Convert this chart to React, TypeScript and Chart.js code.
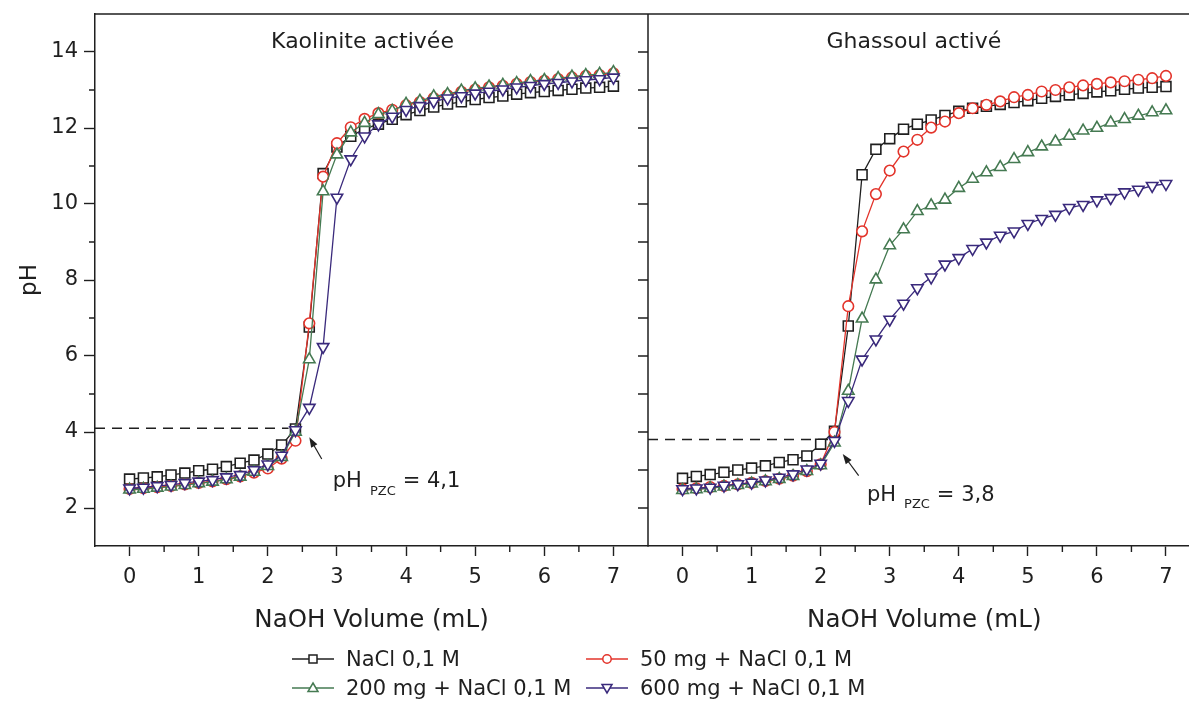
import React, { useEffect, useRef } from 'react';
import { Chart, registerables } from 'chart.js';

Chart.register(...registerables);

// ---------------- data ----------------
const volumes = [
  0, 0.2, 0.4, 0.6, 0.8, 1.0, 1.2, 1.4, 1.6, 1.8,
  2.0, 2.2, 2.4, 2.6, 2.8, 3.0, 3.2, 3.4, 3.6, 3.8,
  4.0, 4.2, 4.4, 4.6, 4.8, 5.0, 5.2, 5.4, 5.6, 5.8,
  6.0, 6.2, 6.4, 6.6, 6.8, 7.0,
];

// Kaolinite activée
const kaoNaCl = [
  2.76, 2.79, 2.82, 2.87, 2.92, 2.98, 3.02, 3.09, 3.18, 3.26,
  3.42, 3.66, 4.08, 6.76, 10.8, 11.5, 11.78, 11.98, 12.1, 12.23,
  12.35, 12.46, 12.55, 12.63, 12.69, 12.75, 12.8, 12.84, 12.89, 12.93,
  12.96, 12.99, 13.02, 13.05, 13.07, 13.1,
];
const kao50 = [
  2.5, 2.52, 2.55, 2.58, 2.62, 2.66, 2.7, 2.76, 2.83, 2.93,
  3.04, 3.3, 3.77, 6.86, 10.72, 11.6, 12.02, 12.24, 12.39, 12.48,
  12.6, 12.68, 12.79, 12.86, 12.95, 13.01, 13.07, 13.11, 13.16, 13.21,
  13.24, 13.29, 13.33, 13.37, 13.39, 13.44,
];
const kao200 = [
  2.48, 2.5, 2.53, 2.56, 2.6, 2.65, 2.69, 2.75, 2.82, 2.95,
  3.1, 3.34, 4.0, 5.91, 10.33, 11.3, 11.88, 12.13, 12.36, 12.45,
  12.63, 12.71, 12.83, 12.89, 12.98, 13.04, 13.09, 13.13, 13.18, 13.23,
  13.26, 13.31, 13.35, 13.39, 13.42, 13.47,
];
const kao600 = [
  2.52, 2.54, 2.58, 2.61, 2.66, 2.7, 2.74, 2.81, 2.87, 3.0,
  3.15, 3.38, 4.05, 4.64, 6.24, 10.17, 11.18, 11.78, 12.1, 12.3,
  12.48, 12.58, 12.7, 12.78, 12.84, 12.91, 12.96, 13.02, 13.07, 13.11,
  13.16, 13.19, 13.23, 13.26, 13.29, 13.33,
];

// Ghassoul activé
const ghaNaCl = [
  2.78, 2.83, 2.88, 2.94, 3.0, 3.05, 3.11, 3.2, 3.27, 3.37,
  3.68, 4.02, 6.79, 10.77, 11.44, 11.72, 11.97, 12.1, 12.21, 12.33,
  12.44, 12.52, 12.57, 12.62, 12.67, 12.72, 12.78, 12.83, 12.87, 12.91,
  12.95, 12.98, 13.02, 13.05, 13.07, 13.09,
];
const gha50 = [
  2.5, 2.52, 2.55, 2.58, 2.62, 2.66, 2.71, 2.77, 2.85, 2.97,
  3.15, 4.0, 7.31, 9.28, 10.26, 10.88, 11.38, 11.69, 12.01, 12.17,
  12.39, 12.52, 12.61, 12.7, 12.81, 12.87, 12.96, 13.0, 13.07, 13.12,
  13.16, 13.2, 13.23, 13.27, 13.31, 13.37,
];
const gha200 = [
  2.47, 2.49, 2.52, 2.56, 2.6, 2.64, 2.7, 2.76, 2.84, 2.97,
  3.12, 3.72, 5.08, 6.98, 8.01, 8.91, 9.33, 9.81, 9.96, 10.11,
  10.42, 10.66, 10.83, 10.97, 11.18, 11.36, 11.51, 11.64, 11.79, 11.93,
  12.0, 12.14, 12.23, 12.32, 12.41, 12.46,
];
const gha600 = [
  2.5, 2.52, 2.54, 2.59, 2.63, 2.67, 2.73, 2.8, 2.89, 3.02,
  3.17, 3.77, 4.82, 5.91, 6.44, 6.96, 7.38, 7.79, 8.07, 8.41,
  8.58, 8.82, 8.99, 9.17, 9.28, 9.48, 9.61, 9.72, 9.9, 9.98,
  10.1, 10.16, 10.31, 10.38, 10.48, 10.53,
];

const seriesLabels = ['NaCl 0,1 M', '50 mg + NaCl 0,1 M', '200 mg + NaCl 0,1 M', '600 mg + NaCl 0,1 M'];
const panelTitles = ['Kaolinite activée', 'Ghassoul activé'];
const pzcValues = [4.1, 3.8];
const pzcTexts = ['4,1', '3,8'];
const xTickValues = [0, 1, 2, 3, 4, 5, 6, 7];
const xMinorValues = [0.5, 1.5, 2.5, 3.5, 4.5, 5.5, 6.5];
const yTickValues = [2, 4, 6, 8, 10, 12, 14];
const yMinorValues = [3, 5, 7, 9, 11, 13];
const xAxisTitle = 'NaOH Volume (mL)';
const yAxisTitle = 'pH';

// ---------------- styles / layout ----------------
const FONT = '"DejaVu Sans", "Liberation Sans", Arial, sans-serif';
const INK = '#1f1f1f';

const STYLES = [
  { color: '#1f1f1f', pointStyle: 'rect', radius: 7, rotation: 0 },
  { color: '#e3342b', pointStyle: 'circle', radius: 5.3, rotation: 0 },
  { color: '#457a52', pointStyle: 'triangle', radius: 6.6, rotation: 0 },
  { color: '#3a2a7c', pointStyle: 'triangle', radius: 6.6, rotation: 180 },
];

const PANELS = [
  {
    series: [kaoNaCl, kao50, kao200, kao600],
    canvasLeft: 0,
    padding: { left: 0, right: 12, top: 14, bottom: 68.6 },
    showY: true,
    dashEnd: 2.3,
    titleX: 3.37,
    arrowFrom: [2.78, 3.29],
    arrowTo: [2.6, 3.86],
    label: [2.94, 2.7],
  },
  {
    series: [ghaNaCl, gha50, gha200, gha600],
    canvasLeft: 600,
    padding: { left: 48, right: 59.5, top: 14, bottom: 68.6 },
    showY: false,
    dashEnd: 2.15,
    titleX: 3.35,
    arrowFrom: [2.55, 2.85],
    arrowTo: [2.32, 3.42],
    label: [2.67, 2.34],
  },
];

const CANVAS_W = 660;
const CANVAS_H = 704;

function PanelChart({ idx }: { idx: number }) {
  const ref = useRef<HTMLCanvasElement | null>(null);

  useEffect(() => {
    const p = PANELS[idx];
    const canvas = ref.current;
    if (!canvas) return;

    const datasets: any[] = p.series.map((vals, i) => ({
      label: seriesLabels[i],
      data: volumes.map((v, k) => ({ x: v, y: vals[k] })),
      borderColor: STYLES[i].color,
      backgroundColor: '#ffffff',
      borderWidth: 1.3,
      pointStyle: STYLES[i].pointStyle,
      pointRadius: STYLES[i].radius,
      pointRotation: STYLES[i].rotation,
      pointBorderColor: STYLES[i].color,
      pointBackgroundColor: '#ffffff',
      pointBorderWidth: 1.6,
      tension: 0,
      order: 4 - i,
    }));
    datasets.push({
      label: 'pH PZC',
      data: [
        { x: -0.5, y: pzcValues[idx] },
        { x: p.dashEnd, y: pzcValues[idx] },
      ],
      borderColor: INK,
      borderWidth: 1.5,
      borderDash: [10, 7],
      pointRadius: 0,
      order: 10,
    });

    const annot = {
      id: 'annot' + idx,
      afterDraw(chart: any) {
        const { ctx, chartArea: a } = chart;
        const xs = chart.scales.x;
        const ys = chart.scales.y;
        ctx.save();
        ctx.strokeStyle = INK;
        ctx.fillStyle = INK;
        // frame
        ctx.lineWidth = 1.5;
        ctx.beginPath();
        ctx.moveTo(a.left, a.top);
        ctx.lineTo(a.right, a.top);
        if (p.showY) {
          ctx.moveTo(a.right, a.top);
          ctx.lineTo(a.right, a.bottom);
        }
        ctx.stroke();
        // minor ticks
        ctx.lineWidth = 1.4;
        ctx.beginPath();
        for (const v of xMinorValues) {
          const px = xs.getPixelForValue(v);
          ctx.moveTo(px, a.bottom);
          ctx.lineTo(px, a.bottom + 6);
        }
        if (p.showY) {
          for (const v of yMinorValues) {
            const py = ys.getPixelForValue(v);
            ctx.moveTo(a.left, py);
            ctx.lineTo(a.left - 6, py);
          }
          for (const v of [...yTickValues, ...yMinorValues]) {
            const py = ys.getPixelForValue(v);
            ctx.moveTo(a.right, py);
            ctx.lineTo(a.right - 10, py);
          }
        }
        ctx.stroke();
        // panel title
        ctx.font = `22px ${FONT}`;
        ctx.textAlign = 'center';
        ctx.textBaseline = 'middle';
        ctx.fillText(panelTitles[idx], xs.getPixelForValue(p.titleX), a.top + 28);
        // arrow
        const fx = xs.getPixelForValue(p.arrowFrom[0]);
        const fy = ys.getPixelForValue(p.arrowFrom[1]);
        const tx = xs.getPixelForValue(p.arrowTo[0]);
        const ty = ys.getPixelForValue(p.arrowTo[1]);
        const ang = Math.atan2(ty - fy, tx - fx);
        const L = 10;
        const W = 3.6;
        ctx.lineWidth = 1.2;
        ctx.beginPath();
        ctx.moveTo(fx, fy);
        ctx.lineTo(tx - Math.cos(ang) * 4, ty - Math.sin(ang) * 4);
        ctx.stroke();
        ctx.beginPath();
        ctx.moveTo(tx, ty);
        ctx.lineTo(tx - L * Math.cos(ang) + W * Math.sin(ang), ty - L * Math.sin(ang) - W * Math.cos(ang));
        ctx.lineTo(tx - L * Math.cos(ang) - W * Math.sin(ang), ty - L * Math.sin(ang) + W * Math.cos(ang));
        ctx.closePath();
        ctx.fill();
        // pH PZC label
        ctx.textAlign = 'left';
        ctx.textBaseline = 'middle';
        let lx = xs.getPixelForValue(p.label[0]);
        const ly = ys.getPixelForValue(p.label[1]);
        ctx.font = `21px ${FONT}`;
        ctx.fillText('pH', lx, ly);
        lx += ctx.measureText('pH').width + 8;
        ctx.font = `13px ${FONT}`;
        ctx.fillText('PZC', lx, ly + 10);
        lx += ctx.measureText('PZC').width + 7;
        ctx.font = `21px ${FONT}`;
        ctx.fillText('= ' + pzcTexts[idx], lx, ly);
        ctx.restore();
      },
    };

    const chart = new Chart(canvas, {
      type: 'line',
      data: { datasets },
      options: {
        responsive: false,
        animation: false,
        devicePixelRatio: 1,
        events: [],
        layout: { padding: p.padding },
        plugins: {
          legend: { display: false },
          tooltip: { enabled: false },
          title: { display: false },
        },
        scales: {
          x: {
            type: 'linear',
            min: -0.5,
            max: 7.5,
            afterBuildTicks: (s: any) => {
              s.ticks = xTickValues.map((v) => ({ value: v }));
            },
            afterFit: (s: any) => {
              s.height = 89.4;
            },
            ticks: {
              font: { family: FONT, size: 21 },
              color: INK,
              padding: 9,
              maxRotation: 0,
              autoSkip: false,
              callback: (v: any) => String(v),
            },
            grid: {
              drawOnChartArea: false,
              drawTicks: true,
              tickLength: 10,
              tickWidth: 1.4,
              tickColor: INK,
            },
            border: { display: true, color: INK, width: 1.5 },
            title: {
              display: true,
              text: xAxisTitle,
              font: { family: FONT, size: 24.5 },
              color: INK,
              padding: { top: 0, bottom: 0 },
            },
          },
          y: {
            type: 'linear',
            display: p.showY,
            min: 1,
            max: 15,
            afterBuildTicks: (s: any) => {
              s.ticks = yTickValues.map((v) => ({ value: v }));
            },
            afterFit: (s: any) => {
              s.width = p.showY ? 95 : 0;
              s.paddingTop = 0;
              s.paddingBottom = 0;
            },
            ticks: {
              font: { family: FONT, size: 21 },
              color: INK,
              padding: 6,
              autoSkip: false,
              callback: (v: any) => String(v),
            },
            grid: {
              drawOnChartArea: false,
              drawTicks: true,
              tickLength: 11,
              tickWidth: 1.4,
              tickColor: INK,
            },
            border: { display: true, color: INK, width: 1.5 },
            title: {
              display: true,
              text: yAxisTitle,
              font: { family: FONT, size: 23 },
              color: INK,
              padding: { top: 16, bottom: 0 },
            },
          },
        },
      } as any,
      plugins: [annot],
    });

    return () => chart.destroy();
  }, [idx]);

  return (
    <canvas
      ref={ref}
      width={CANVAS_W}
      height={CANVAS_H}
      style={{
        position: 'absolute',
        left: PANELS[idx].canvasLeft,
        top: 0,
        width: CANVAS_W,
        height: CANVAS_H,
      }}
    />
  );
}

const LEGEND_POS = [
  { left: 292, cy: 659 },
  { left: 586, cy: 659 },
  { left: 292, cy: 688 },
  { left: 586, cy: 688 },
];

function LegendMarker({ i }: { i: number }) {
  const c = STYLES[i].color;
  let marker: any = null;
  if (i === 0) marker = <rect x={17} y={6} width={8} height={8} fill="#fff" stroke={c} strokeWidth={1.5} />;
  if (i === 1) marker = <circle cx={21} cy={10} r={4.2} fill="#fff" stroke={c} strokeWidth={1.5} />;
  if (i === 2) marker = <polygon points="21,5 26,13.5 16,13.5" fill="#fff" stroke={c} strokeWidth={1.5} />;
  if (i === 3) marker = <polygon points="16,6.5 26,6.5 21,15" fill="#fff" stroke={c} strokeWidth={1.5} />;
  return (
    <svg width={42} height={20} style={{ display: 'block', flex: 'none' }}>
      <line x1={0} y1={10} x2={42} y2={10} stroke={c} strokeWidth={1.4} />
      {marker}
    </svg>
  );
}

function Legend() {
  return (
    <>
      {seriesLabels.map((lab, i) => (
        <div
          key={lab}
          style={{
            position: 'absolute',
            left: LEGEND_POS[i].left,
            top: LEGEND_POS[i].cy - 13,
            height: 26,
            display: 'flex',
            alignItems: 'center',
            whiteSpace: 'nowrap',
          }}
        >
          <LegendMarker i={i} />
          <span style={{ marginLeft: 12, font: `21px ${FONT}`, color: INK, lineHeight: '26px' }}>{lab}</span>
        </div>
      ))}
    </>
  );
}

export default function App() {
  return (
    <div
      style={{
        position: 'absolute',
        left: 0,
        top: 0,
        width: 1189,
        height: 704,
        overflow: 'hidden',
        background: '#ffffff',
      }}
    >
      <PanelChart idx={0} />
      <PanelChart idx={1} />
      <Legend />
    </div>
  );
}
